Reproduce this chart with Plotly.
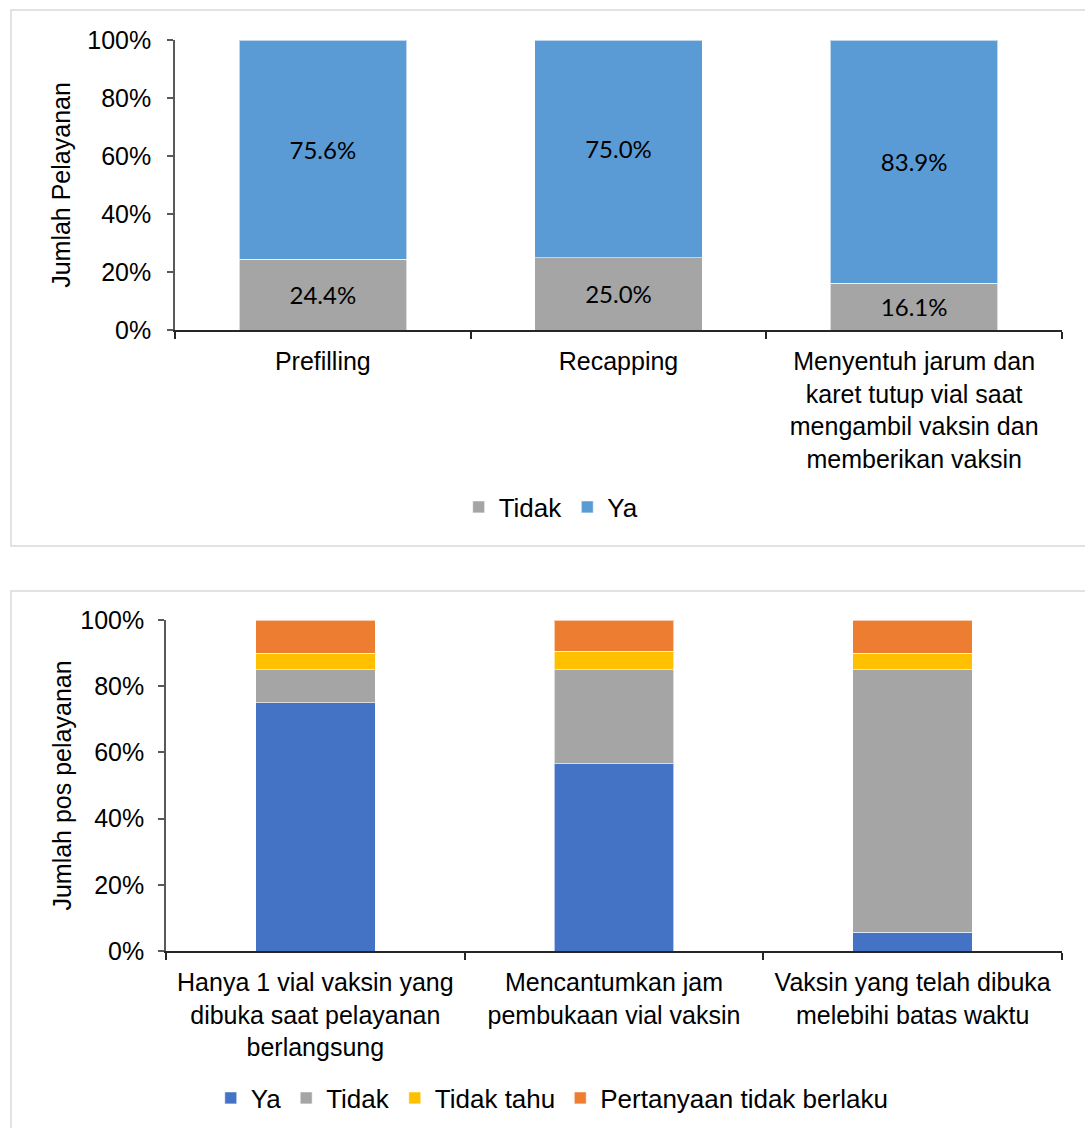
import plotly.graph_objects as go

W, H = 1085, 1128

# ---- Chart 1 data ----
cat1 = ["Prefilling", "Recapping",
        "Menyentuh jarum dan<br>karet tutup vial saat<br>mengambil vaksin dan<br>memberikan vaksin"]
tidak1 = [24.4, 25.0, 16.1]
ya1 = [75.6, 75.0, 83.9]

# ---- Chart 2 data ----
cat2 = ["Hanya 1 vial vaksin yang<br>dibuka saat pelayanan<br>berlangsung",
        "Mencantumkan jam<br>pembukaan vial vaksin",
        "Vaksin yang telah dibuka<br>melebihi batas waktu"]
ya2 = [75.0, 56.6, 5.6]
tidak2 = [10.0, 28.3, 79.4]
tidaktahu2 = [5.0, 5.7, 5.0]
pertanyaan2 = [10.0, 9.4, 10.0]

ytickvals = [0, 20, 40, 60, 80, 100]
yticktext = ["0%", "20%", "40%", "60%", "80%", "100%"]

FONT = "Liberation Sans, Arial, sans-serif"
LBL = "Lato, Carlito, Calibri, sans-serif"
FS = 25
edge = dict(color="rgba(255,255,255,0.6)", width=1)

fig = go.Figure()
fig.add_trace(go.Bar(x=cat1, y=tidak1, name="Tidak", marker=dict(color="#A5A5A5", line=edge),
                     width=0.567, texttemplate="%{y:.1f}%", textposition="inside",
                     insidetextanchor="middle", textangle=0, constraintext="none",
                     textfont=dict(family=LBL, size=24, color="black"),
                     xaxis="x", yaxis="y", legend="legend"))
fig.add_trace(go.Bar(x=cat1, y=ya1, name="Ya", marker=dict(color="#5B9BD5", line=edge),
                     width=0.567, texttemplate="%{y:.1f}%", textposition="inside",
                     insidetextanchor="middle", textangle=0, constraintext="none",
                     textfont=dict(family=LBL, size=24, color="black"),
                     xaxis="x", yaxis="y", legend="legend"))

for name, vals, col in [("Ya", ya2, "#4472C4"), ("Tidak", tidak2, "#A5A5A5"),
                        ("Tidak tahu", tidaktahu2, "#FFC000"),
                        ("Pertanyaan tidak berlaku", pertanyaan2, "#ED7D31")]:
    fig.add_trace(go.Bar(x=cat2, y=vals, name=name, marker=dict(color=col, line=edge),
                         width=0.40, xaxis="x2", yaxis="y2", legend="legend2"))

def px_x(p):
    return p / W

def px_y(p):
    return 1 - p / H

xax = dict(type="category", showline=True, linecolor="#262626", linewidth=2,
           ticks="outside", tickson="boundaries", ticklen=7, tickcolor="#262626",
           tickwidth=1.5, showgrid=False, tickfont=dict(family=FONT, size=FS, color="black"),
           fixedrange=True, automargin=False, ticklabelstandoff=8)
yax = dict(range=[0, 100], tickvals=ytickvals, ticktext=yticktext,
           showline=True, linecolor="#595959", linewidth=1.5, ticks="outside", ticklen=6,
           tickcolor="#595959", tickwidth=1.5, showgrid=False, zeroline=False,
           tickfont=dict(family=FONT, size=FS, color="black"), fixedrange=True,
           automargin=False)

fig.update_layout(
    width=W, height=H, autosize=False,
    margin=dict(l=0, r=0, t=0, b=0, autoexpand=False),
    paper_bgcolor="white", plot_bgcolor="white",
    barmode="stack",
    font=dict(family=FONT, size=FS, color="black"),
    xaxis=dict(xax, domain=[px_x(175), px_x(1062)], anchor="y"),
    yaxis=dict(yax, domain=[px_y(330), px_y(40)], anchor="x", ticklabelstandoff=11,
               title=dict(text="Jumlah Pelayanan", font=dict(family=FONT, size=FS), standoff=10)),
    xaxis2=dict(xax, domain=[px_x(166), px_x(1062)], anchor="y2"),
    yaxis2=dict(yax, domain=[px_y(951), px_y(620)], anchor="x2", ticklabelstandoff=9,
                title=dict(text="Jumlah pos pelayanan", font=dict(family=FONT, size=FS), standoff=2)),
    legend=dict(orientation="h", x=0.508, xanchor="center", y=px_y(507), yanchor="middle",
                font=dict(family=FONT, size=26), itemwidth=30, traceorder="normal",
                bgcolor="rgba(0,0,0,0)"),
    legend2=dict(orientation="h", x=0.509, xanchor="center", y=px_y(1098), yanchor="middle",
                 font=dict(family=FONT, size=26), itemwidth=30, traceorder="normal",
                 bgcolor="rgba(0,0,0,0)"),
    showlegend=True,
    shapes=[
        dict(type="rect", xref="paper", yref="paper", x0=px_x(11), x1=px_x(1100),
             y0=px_y(546), y1=px_y(10), line=dict(color="#D9D9D9", width=1.5), layer="below"),
        dict(type="rect", xref="paper", yref="paper", x0=px_x(11), x1=px_x(1100),
             y0=px_y(1140), y1=px_y(591), line=dict(color="#D9D9D9", width=1.5), layer="below"),
    ],
)

fig.write_html("out.html")
